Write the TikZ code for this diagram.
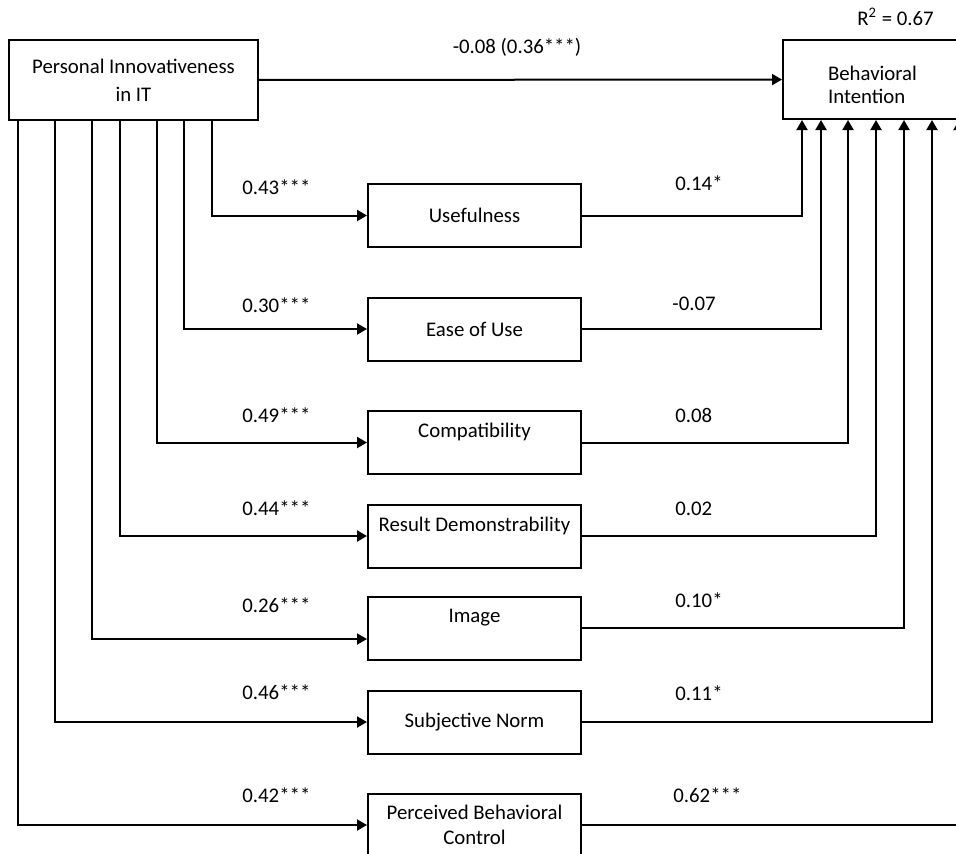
\documentclass[tikz,border=0pt]{standalone}
\usepackage{fontspec}
\setmainfont{Carlito}
\usetikzlibrary{arrows.meta,positioning}
\tikzset{
  doboz/.style={draw,line width=1pt,minimum width=106.5pt,minimum height=31.5pt,align=center,
                inner sep=2pt},
  fent/.style={text depth=12pt},
  nyil/.style={line width=1pt,-{Triangle[length=5pt,width=5.5pt]}},
  szam/.style={anchor=base west,inner sep=0pt},
}

\begin{document}
\begin{tikzpicture}[x=0.5pt,y=-0.5pt,font=\fontsize{10.4}{12.5}\selectfont]
  \useasboundingbox (0,0) rectangle (956,853);
  \clip (0,0) rectangle (956,853);
  \node[doboz,minimum width=124.5pt,minimum height=40pt] (pi) at (133.5,80) {Personal Innovativeness\\[1.5pt]in IT};
  \node[doboz,minimum width=89.5pt,minimum height=39.5pt,align=left] (bi) at (872.5,79.5)
    {\rule{0pt}{13pt}Behavioral\\[-1pt]Intention};
  \node[doboz] (use) at (474.5,215.5) {Usefulness};
  \node[doboz] (eou) at (474.5,329) {Ease of Use};
  \node[doboz,fent] (comp) at (474.5,442.5) {Compatibility};
  \node[doboz,fent] (rd) at (474.5,536) {Result Demonstrability};
  \node[doboz,fent] (img) at (474.5,628) {Image};
  \node[doboz] (sn) at (474.5,722) {Subjective Norm};
  \node[doboz] (pbc) at (474.5,825) {Perceived Behavioral\\Control};
  \node[szam] (r2) at (857,25) {R\textsuperscript{2} = 0.67};
  % PI -> BI direct
  \draw[nyil] (pi) -- (bi);
  \node[szam,anchor=base] (s0) at (517,53) {-0.08 (0.36***)};
  % PI -> mediators
  \draw[nyil] (212,0 |- pi.south) |- (use.west);
  \draw[nyil] (184,0 |- pi.south) |- (eou.west);
  \draw[nyil] (157,0 |- pi.south) |- (comp.west);
  \draw[nyil] (120,0 |- pi.south) |- (rd.west);
  \draw[nyil] (92,0 |- pi.south) |- ([yshift=-5.5pt]img.west);
  \draw[nyil] (55,0 |- pi.south) |- (sn.west);
  \draw[nyil] (18,0 |- pi.south) |- (pbc.west);
  \node[szam] (a1) at (242,194) {0.43***};
  \node[szam] (a2) at (242,312) {0.30***};
  \node[szam] (a3) at (242,422) {0.49***};
  \node[szam] (a4) at (242,515) {0.44***};
  \node[szam] (a5) at (242,612) {0.26***};
  \node[szam] (a6) at (242,699) {0.46***};
  \node[szam] (a7) at (242,802) {0.42***};
  % mediators -> BI
  \draw[nyil] (use.east) -| (802,0 |- bi.south);
  \draw[nyil] (eou.east) -| (821,0 |- bi.south);
  \draw[nyil] (comp.east) -| (848,0 |- bi.south);
  \draw[nyil] (rd.east) -| (876,0 |- bi.south);
  \draw[nyil] (img.east) -| (904,0 |- bi.south);
  \draw[nyil] (sn.east) -| (932,0 |- bi.south);
  \draw[nyil] (pbc.east) -| (959,0 |- bi.south);
  \node[szam] (b1) at (675,190) {0.14*};
  \node[szam] (b2) at (672,310) {-0.07};
  \node[szam] (b3) at (675,422) {0.08};
  \node[szam] (b4) at (675,515) {0.02};
  \node[szam] (b5) at (675,607) {0.10*};
  \node[szam] (b6) at (675,700) {0.11*};
  \node[szam] (b7) at (673,802) {0.62***};
\end{tikzpicture}
\end{document}
